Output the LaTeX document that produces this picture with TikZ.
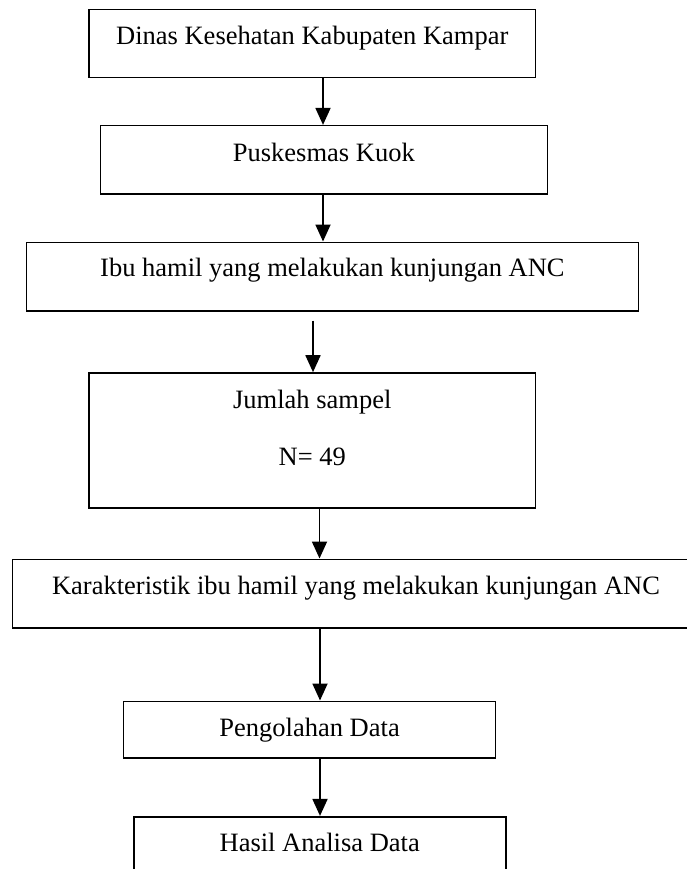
\documentclass[tikz,border=0pt]{standalone}
\usepackage{fontspec}
\setmainfont{Liberation Serif}
\usetikzlibrary{arrows.meta}
\tikzset{
  box/.style={draw, line width=1.6pt, rectangle, inner sep=0pt},
  txt/.style={anchor=base, inner sep=0pt, font=\fontsize{26.5}{30}\selectfont},
  arr/.style={line width=1.8pt, -{Triangle[width=15pt,length=17pt]}}
}
\begin{document}
\begin{tikzpicture}[x=1pt,y=-1pt]
\useasboundingbox (0,0) rectangle (687,869);
\clip (0,0) rectangle (687,869);
\fill[white] (0,0) rectangle (687,869);
% boxes
\node[box, minimum width=446.5pt, minimum height=68.2pt] (b1) at (312.25,43.6) {};
\node[box, minimum width=446.9pt, minimum height=68.3pt] (b2) at (323.85,159.85) {};
\node[box, minimum width=612.2pt, minimum height=68.7pt] (b3) at (332.4,276.65) {};
\node[box, minimum width=446.5pt, minimum height=134.7pt] (b4) at (312.25,440.35) {};
\node[box, minimum width=687.7pt, minimum height=68.7pt] (b5) at (356.15,593.65) {};
\node[box, minimum width=372pt, minimum height=56.4pt] (b6) at (309.6,729.5) {};
\node[box, minimum width=372pt, minimum height=83pt] (b7) at (319.7,858.2) {};
% texts
\node[txt] (t1) at (312.25,44.3) {Dinas Kesehatan Kabupaten Kampar};
\node[txt] (t2) at (323.85,161) {Puskesmas Kuok};
\node[txt] (t3) at (332.4,276.7) {Ibu hamil yang melakukan kunjungan ANC};
\node[txt] (t4a) at (312.25,408.3) {Jumlah sampel};
\node[txt] (t4b) at (312.25,465.7) {N= 49};
\node[txt] (t5) at (356,594) {Karakteristik ibu hamil yang melakukan kunjungan ANC};
\node[txt] (t6) at (309.6,736.7) {Pengolahan Data};
\node[txt] (t7) at (319.7,851.7) {Hasil Analisa Data};
% arrow columns
\coordinate (c1) at (323,0);
\coordinate (c3) at (313,320.7);
\coordinate (c4) at (319.5,0);
\coordinate (c5) at (320,0);
% arrows
\draw[arr] (b1.south -| c1) -- (b2.north -| c1);
\draw[arr] (b2.south -| c1) -- (b3.north -| c1);
\draw[arr] (c3) -- (b4.north -| c3);
\draw[arr] (b4.south -| c4) -- (b5.north -| c4);
\draw[arr] (b5.south -| c5) -- (b6.north -| c5);
\draw[arr] (b6.south -| c5) -- (b7.north -| c5);
\end{tikzpicture}
\end{document}
